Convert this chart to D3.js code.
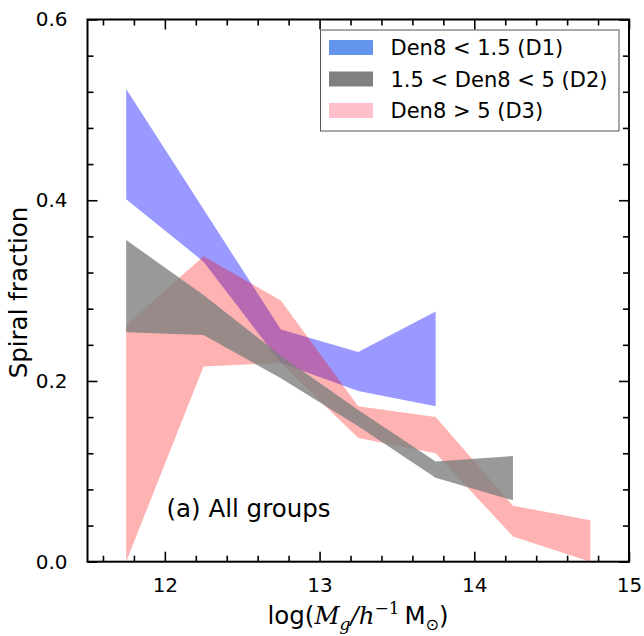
<!DOCTYPE html>
<html>
<head>
<meta charset="utf-8">
<script src="https://cdnjs.cloudflare.com/ajax/libs/d3/7.8.5/d3.min.js"></script>
<style>
  body { margin: 0; background: #fff; }
  svg { display: block; font-family: "DejaVu Sans", sans-serif; }
</style>
</head>
<body>
<div id="chart"></div>
<script>
// halo mass bins (log Mg) for each density sample
const massD1 = [11.75, 12.25, 12.75, 13.25, 13.75];
const massD2 = [11.75, 12.25, 12.75, 13.25, 13.75, 14.25];
const massD3 = [11.75, 12.25, 12.75, 13.25, 13.75, 14.25, 14.75];

// spiral fraction bands (upper / lower bounds)
const d1Upper = [0.523, 0.390, 0.257, 0.232, 0.277];
const d1Lower = [0.401, 0.332, 0.220, 0.189, 0.172];
const d2Upper = [0.356, 0.295, 0.228, 0.168, 0.111, 0.117];
const d2Lower = [0.254, 0.251, 0.203, 0.150, 0.093, 0.068];
const d3Upper = [0.262, 0.338, 0.289, 0.172, 0.160, 0.062, 0.046];
const d3Lower = [0.000, 0.216, 0.220, 0.137, 0.120, 0.028, 0.000];

const legendLabels = ["Den8 < 1.5 (D1)", "1.5 < Den8 < 5 (D2)", "Den8 > 5 (D3)"];
const xTicks = [12, 13, 14, 15];
const yTicks = [0.0, 0.2, 0.4, 0.6];

(function(){

    var width = 644, height = 636;
    var margin = {left: 87.5, right: 15, top: 19.5, bottom: 74.3};

    var svg = d3.select('#chart')
    .append('svg')
    .attr('width', width)
    .attr('height', height);

    var x = d3.scaleLinear().domain([11.5, 15]).range([margin.left, width - margin.right]);
    var y = d3.scaleLinear().domain([0, 0.6]).range([height - margin.bottom, margin.top]);

    function band(mass, lower, upper){
        return mass.map((m, i) => ({m: m, lo: lower[i], hi: upper[i]}));
    }

    var area = d3.area()
    .x(d => x(d.m))
    .y0(d => y(d.lo))
    .y1(d => y(d.hi));

    // draw order as in the original: blue, then pink, then gray on top
    var layers = [
        {data: band(massD1, d1Lower, d1Upper), fill: 'rgb(0,0,255)', alpha: 0.4},
        {data: band(massD3, d3Lower, d3Upper), fill: 'rgb(255,0,0)', alpha: 0.3},
        {data: band(massD2, d2Lower, d2Upper), fill: 'rgb(128,128,128)', alpha: 0.8}
    ];

    svg.append('g')
    .selectAll('path')
    .data(layers)
    .enter()
    .append('path')
    .attr('d', d => area(d.data))
    .attr('fill', d => d.fill)
    .attr('fill-opacity', d => d.alpha);

    // axes: ticks pointing inward on all four sides
    var xMinor = d3.range(11.6, 15.0, 0.2).filter(v => Math.abs(v - Math.round(v)) > 1e-6);
    var yMinor = d3.range(0.04, 0.6, 0.04).filter(v => Math.abs(v * 5 - Math.round(v * 5)) > 1e-6);
    var plotW = width - margin.left - margin.right;
    var plotH = height - margin.top - margin.bottom;

    function styleAxis(g){
        g.selectAll('.domain').remove();
        g.selectAll('line').attr('stroke', '#000').attr('stroke-width', 1.6);
    }

    var bottom = svg.append('g').attr('transform', `translate(0,${y(0)})`);
    bottom.call(d3.axisBottom(x).tickValues(xTicks).tickSize(-10).tickFormat(d3.format('d')).tickPadding(16))
    .call(styleAxis);
    bottom.selectAll('text').attr('font-size', 20).attr('fill', '#000').attr('font-family', '"DejaVu Sans", sans-serif');
    bottom.append('g').call(d3.axisBottom(x).tickValues(xMinor).tickSize(-6).tickFormat('')).call(styleAxis);

    var top = svg.append('g').attr('transform', `translate(0,${y(0.6)})`);
    top.call(d3.axisTop(x).tickValues(xTicks).tickSize(-10).tickFormat('')).call(styleAxis);
    top.append('g').call(d3.axisTop(x).tickValues(xMinor).tickSize(-6).tickFormat('')).call(styleAxis);

    var left = svg.append('g').attr('transform', `translate(${x(11.5)},0)`);
    left.call(d3.axisLeft(y).tickValues(yTicks).tickSize(-10).tickFormat(d3.format('.1f')).tickPadding(20))
    .call(styleAxis);
    left.selectAll('text').attr('font-size', 20).attr('fill', '#000').attr('font-family', '"DejaVu Sans", sans-serif');
    left.append('g').call(d3.axisLeft(y).tickValues(yMinor).tickSize(-6).tickFormat('')).call(styleAxis);

    var right = svg.append('g').attr('transform', `translate(${x(15)},0)`);
    right.call(d3.axisRight(y).tickValues(yTicks).tickSize(-10).tickFormat('')).call(styleAxis);
    right.append('g').call(d3.axisRight(y).tickValues(yMinor).tickSize(-6).tickFormat('')).call(styleAxis);

    svg.append('rect')
    .attr('x', margin.left)
    .attr('y', margin.top)
    .attr('width', plotW)
    .attr('height', plotH)
    .attr('fill', 'none')
    .attr('stroke', '#000')
    .attr('stroke-width', 2);

    // legend
    var legendColors = ['#6495ED', '#808080', '#FFC0CB'];
    var legend = svg.append('g').attr('transform', 'translate(320.5,30)');
    legend.append('rect')
    .attr('width', 298.5)
    .attr('height', 101)
    .attr('fill', '#fff')
    .attr('stroke', '#555')
    .attr('stroke-width', 1);

    var item = legend.selectAll('.item')
    .data(legendLabels)
    .enter()
    .append('g')
    .attr('class', 'item')
    .attr('transform', (d, i) => `translate(0,${17.5 + i * 31.5})`);

    item.append('rect')
    .attr('x', 8.5)
    .attr('y', -7.5)
    .attr('width', 44)
    .attr('height', 15)
    .attr('fill', (d, i) => legendColors[i]);

    item.append('text')
    .attr('x', 70)
    .attr('y', 7.5)
    .attr('font-size', 21)
    .attr('fill', '#000')
    .text(d => d);

    // panel label
    svg.append('text')
    .attr('x', 166.5)
    .attr('y', 516.5)
    .attr('font-size', 24.5)
    .attr('fill', '#000')
    .text('(a) All groups');

    // y label
    svg.append('text')
    .attr('transform', 'translate(27,292.5) rotate(-90)')
    .attr('text-anchor', 'middle')
    .attr('font-size', 24.5)
    .attr('fill', '#000')
    .text('Spiral fraction');

    // x label: log(M_g / h^-1 M_sun)
    var xl = svg.append('text')
    .attr('x', 358)
    .attr('y', 624)
    .attr('text-anchor', 'middle')
    .attr('font-size', 24.5)
    .attr('fill', '#000');
    var serif = '"DejaVu Serif", serif';
    xl.append('tspan').text('log(');
    xl.append('tspan').attr('font-family', serif).attr('font-style', 'italic').text('M');
    xl.append('tspan').attr('font-family', serif).attr('font-style', 'italic').attr('font-size', 17).attr('dy', 6).text('g');
    xl.append('tspan').attr('font-family', serif).attr('font-style', 'italic').attr('dy', -6).text('/h');
    xl.append('tspan').attr('font-family', serif).attr('font-size', 17).attr('dy', -10).text('\u22121');
    xl.append('tspan').attr('dy', 10).text('\u2009M');
    xl.append('tspan').attr('font-size', 16).attr('dy', 6).text('\u2299');
    xl.append('tspan').attr('dy', -6).text(')');

})();
</script>
</body>
</html>
